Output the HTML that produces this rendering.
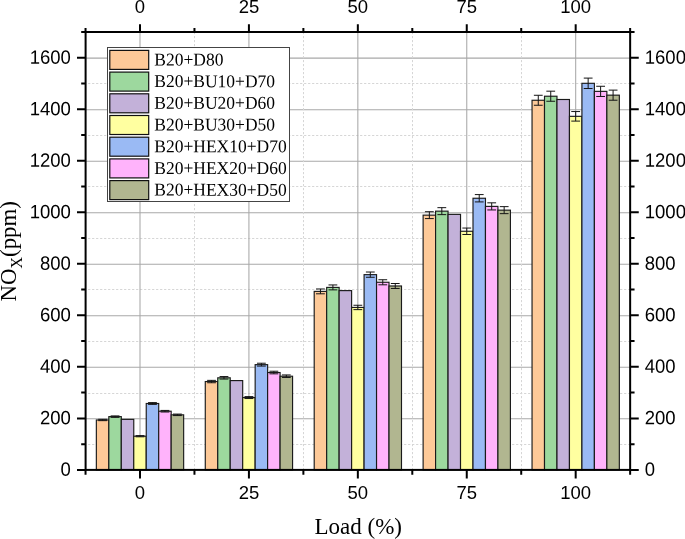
<!DOCTYPE html>
<html lang="en"><head><meta charset="utf-8"><title>NOx vs Load</title>
<style>html,body{margin:0;padding:0;background:#fff}svg{display:block}</style></head>
<body>
<svg width="685" height="539" viewBox="0 0 685 539">
<rect width="685" height="539" fill="#fff"/>
<g><line x1="88.1" x2="630.15" y1="444.50" y2="444.50" stroke="#d6d6d6" stroke-width="1" stroke-dasharray="2.2 1.8"/><line x1="85.6" x2="630.15" y1="418.76" y2="418.76" stroke="#a8a8a8" stroke-width="1.05"/><line x1="88.1" x2="630.15" y1="393.50" y2="393.50" stroke="#d6d6d6" stroke-width="1" stroke-dasharray="2.2 1.8"/><line x1="85.6" x2="630.15" y1="367.24" y2="367.24" stroke="#a8a8a8" stroke-width="1.05"/><line x1="88.1" x2="630.15" y1="341.50" y2="341.50" stroke="#d6d6d6" stroke-width="1" stroke-dasharray="2.2 1.8"/><line x1="85.6" x2="630.15" y1="315.73" y2="315.73" stroke="#a8a8a8" stroke-width="1.05"/><line x1="88.1" x2="630.15" y1="289.50" y2="289.50" stroke="#d6d6d6" stroke-width="1" stroke-dasharray="2.2 1.8"/><line x1="85.6" x2="630.15" y1="264.21" y2="264.21" stroke="#a8a8a8" stroke-width="1.05"/><line x1="88.1" x2="630.15" y1="238.50" y2="238.50" stroke="#d6d6d6" stroke-width="1" stroke-dasharray="2.2 1.8"/><line x1="85.6" x2="630.15" y1="212.69" y2="212.69" stroke="#a8a8a8" stroke-width="1.05"/><line x1="88.1" x2="630.15" y1="186.50" y2="186.50" stroke="#d6d6d6" stroke-width="1" stroke-dasharray="2.2 1.8"/><line x1="85.6" x2="630.15" y1="161.17" y2="161.17" stroke="#a8a8a8" stroke-width="1.05"/><line x1="88.1" x2="630.15" y1="135.50" y2="135.50" stroke="#d6d6d6" stroke-width="1" stroke-dasharray="2.2 1.8"/><line x1="85.6" x2="630.15" y1="109.66" y2="109.66" stroke="#a8a8a8" stroke-width="1.05"/><line x1="88.1" x2="630.15" y1="83.50" y2="83.50" stroke="#d6d6d6" stroke-width="1" stroke-dasharray="2.2 1.8"/><line x1="85.6" x2="630.15" y1="58.14" y2="58.14" stroke="#a8a8a8" stroke-width="1.05"/><line y1="32.0" y2="469.9" x1="140.00" x2="140.00" stroke="#a8a8a8" stroke-width="1.05"/><line y1="32.0" y2="469.9" x1="194.50" x2="194.50" stroke="#d6d6d6" stroke-width="1" stroke-dasharray="2.2 1.8"/><line y1="32.0" y2="469.9" x1="248.92" x2="248.92" stroke="#a8a8a8" stroke-width="1.05"/><line y1="32.0" y2="469.9" x1="303.50" x2="303.50" stroke="#d6d6d6" stroke-width="1" stroke-dasharray="2.2 1.8"/><line y1="32.0" y2="469.9" x1="357.84" x2="357.84" stroke="#a8a8a8" stroke-width="1.05"/><line y1="32.0" y2="469.9" x1="412.50" x2="412.50" stroke="#d6d6d6" stroke-width="1" stroke-dasharray="2.2 1.8"/><line y1="32.0" y2="469.9" x1="466.76" x2="466.76" stroke="#a8a8a8" stroke-width="1.05"/><line y1="32.0" y2="469.9" x1="521.50" x2="521.50" stroke="#d6d6d6" stroke-width="1" stroke-dasharray="2.2 1.8"/><line y1="32.0" y2="469.9" x1="575.68" x2="575.68" stroke="#a8a8a8" stroke-width="1.05"/></g>
<g><rect x="96.35" y="419.98" width="12.47" height="49.92" fill="#FDC998" stroke="#1a1a1a" stroke-width="1.15"/><path d="M102.59 419.31V420.65M98.19 419.31H106.99M98.19 420.65H106.99" stroke="#141414" stroke-width="1" fill="none"/><rect x="108.83" y="416.63" width="12.47" height="53.27" fill="#9DD89E" stroke="#1a1a1a" stroke-width="1.15"/><path d="M115.06 415.92V417.35M110.66 415.92H119.46M110.66 417.35H119.46" stroke="#141414" stroke-width="1" fill="none"/><rect x="121.30" y="419.36" width="12.47" height="50.54" fill="#C3B1D9" stroke="#1a1a1a" stroke-width="1.15"/><rect x="133.76" y="436.21" width="12.47" height="33.69" fill="#FFFFA0" stroke="#1a1a1a" stroke-width="1.15"/><path d="M140.00 435.61V436.81M135.60 435.61H144.40M135.60 436.81H144.40" stroke="#141414" stroke-width="1" fill="none"/><rect x="146.24" y="403.49" width="12.47" height="66.41" fill="#9ABAF4" stroke="#1a1a1a" stroke-width="1.15"/><path d="M152.47 402.60V404.39M148.07 402.60H156.87M148.07 404.39H156.87" stroke="#141414" stroke-width="1" fill="none"/><rect x="158.71" y="411.22" width="12.47" height="58.68" fill="#FFB3FB" stroke="#1a1a1a" stroke-width="1.15"/><path d="M164.94 410.43V412.01M160.54 410.43H169.34M160.54 412.01H169.34" stroke="#141414" stroke-width="1" fill="none"/><rect x="171.18" y="414.83" width="12.47" height="55.07" fill="#B1B690" stroke="#1a1a1a" stroke-width="1.15"/><path d="M177.41 414.09V415.57M173.01 414.09H181.81M173.01 415.57H181.81" stroke="#141414" stroke-width="1" fill="none"/><rect x="205.28" y="381.55" width="12.47" height="88.35" fill="#FDC998" stroke="#1a1a1a" stroke-width="1.15"/><path d="M211.51 380.36V382.74M207.11 380.36H215.91M207.11 382.74H215.91" stroke="#141414" stroke-width="1" fill="none"/><rect x="217.75" y="377.81" width="12.47" height="92.09" fill="#9DD89E" stroke="#1a1a1a" stroke-width="1.15"/><path d="M223.98 376.57V379.05M219.58 376.57H228.38M219.58 379.05H228.38" stroke="#141414" stroke-width="1" fill="none"/><rect x="230.22" y="380.59" width="12.47" height="89.31" fill="#C3B1D9" stroke="#1a1a1a" stroke-width="1.15"/><rect x="242.69" y="397.57" width="12.47" height="72.33" fill="#FFFFA0" stroke="#1a1a1a" stroke-width="1.15"/><path d="M248.92 396.60V398.54M244.52 396.60H253.32M244.52 398.54H253.32" stroke="#141414" stroke-width="1" fill="none"/><rect x="255.16" y="364.65" width="12.47" height="105.25" fill="#9ABAF4" stroke="#1a1a1a" stroke-width="1.15"/><path d="M261.39 363.23V366.07M256.99 363.23H265.79M256.99 366.07H265.79" stroke="#141414" stroke-width="1" fill="none"/><rect x="267.62" y="372.53" width="12.47" height="97.37" fill="#FFB3FB" stroke="#1a1a1a" stroke-width="1.15"/><path d="M273.86 371.22V373.84M269.46 371.22H278.26M269.46 373.84H278.26" stroke="#141414" stroke-width="1" fill="none"/><rect x="280.10" y="376.22" width="12.47" height="93.68" fill="#B1B690" stroke="#1a1a1a" stroke-width="1.15"/><path d="M286.33 374.95V377.48M281.93 374.95H290.73M281.93 377.48H290.73" stroke="#141414" stroke-width="1" fill="none"/><rect x="314.20" y="291.39" width="12.47" height="178.51" fill="#FDC998" stroke="#1a1a1a" stroke-width="1.15"/><path d="M320.43 288.98V293.80M316.03 288.98H324.83M316.03 293.80H324.83" stroke="#141414" stroke-width="1" fill="none"/><rect x="326.67" y="287.40" width="12.47" height="182.50" fill="#9DD89E" stroke="#1a1a1a" stroke-width="1.15"/><path d="M332.90 284.94V289.86M328.50 284.94H337.30M328.50 289.86H337.30" stroke="#141414" stroke-width="1" fill="none"/><rect x="339.14" y="290.62" width="12.47" height="179.28" fill="#C3B1D9" stroke="#1a1a1a" stroke-width="1.15"/><rect x="351.61" y="307.44" width="12.47" height="162.46" fill="#FFFFA0" stroke="#1a1a1a" stroke-width="1.15"/><path d="M357.84 305.25V309.63M353.44 305.25H362.24M353.44 309.63H362.24" stroke="#141414" stroke-width="1" fill="none"/><rect x="364.08" y="274.65" width="12.47" height="195.25" fill="#9ABAF4" stroke="#1a1a1a" stroke-width="1.15"/><path d="M370.31 272.02V277.28M365.91 272.02H374.71M365.91 277.28H374.71" stroke="#141414" stroke-width="1" fill="none"/><rect x="376.55" y="282.27" width="12.47" height="187.63" fill="#FFB3FB" stroke="#1a1a1a" stroke-width="1.15"/><path d="M382.78 279.74V284.80M378.38 279.74H387.18M378.38 284.80H387.18" stroke="#141414" stroke-width="1" fill="none"/><rect x="389.02" y="285.98" width="12.47" height="183.92" fill="#B1B690" stroke="#1a1a1a" stroke-width="1.15"/><path d="M395.25 283.50V288.46M390.85 283.50H399.65M390.85 288.46H399.65" stroke="#141414" stroke-width="1" fill="none"/><rect x="423.12" y="215.15" width="12.47" height="254.75" fill="#FDC998" stroke="#1a1a1a" stroke-width="1.15"/><path d="M429.35 211.71V218.58M424.95 211.71H433.75M424.95 218.58H433.75" stroke="#141414" stroke-width="1" fill="none"/><rect x="435.58" y="211.15" width="12.47" height="258.75" fill="#9DD89E" stroke="#1a1a1a" stroke-width="1.15"/><path d="M441.82 207.66V214.64M437.42 207.66H446.22M437.42 214.64H446.22" stroke="#141414" stroke-width="1" fill="none"/><rect x="448.06" y="214.37" width="12.47" height="255.53" fill="#C3B1D9" stroke="#1a1a1a" stroke-width="1.15"/><rect x="460.52" y="231.27" width="12.47" height="238.63" fill="#FFFFA0" stroke="#1a1a1a" stroke-width="1.15"/><path d="M466.76 228.05V234.49M462.36 228.05H471.16M462.36 234.49H471.16" stroke="#141414" stroke-width="1" fill="none"/><rect x="473.00" y="198.25" width="12.47" height="271.65" fill="#9ABAF4" stroke="#1a1a1a" stroke-width="1.15"/><path d="M479.23 194.58V201.91M474.83 194.58H483.63M474.83 201.91H483.63" stroke="#141414" stroke-width="1" fill="none"/><rect x="485.46" y="206.39" width="12.47" height="263.51" fill="#FFB3FB" stroke="#1a1a1a" stroke-width="1.15"/><path d="M491.70 202.83V209.94M487.30 202.83H496.10M487.30 209.94H496.10" stroke="#141414" stroke-width="1" fill="none"/><rect x="497.94" y="210.15" width="12.47" height="259.75" fill="#B1B690" stroke="#1a1a1a" stroke-width="1.15"/><path d="M504.17 206.64V213.65M499.77 206.64H508.57M499.77 213.65H508.57" stroke="#141414" stroke-width="1" fill="none"/><rect x="532.04" y="100.26" width="12.47" height="369.64" fill="#FDC998" stroke="#1a1a1a" stroke-width="1.15"/><path d="M538.27 95.27V105.25M533.87 95.27H542.67M533.87 105.25H542.67" stroke="#141414" stroke-width="1" fill="none"/><rect x="544.51" y="96.22" width="12.47" height="373.68" fill="#9DD89E" stroke="#1a1a1a" stroke-width="1.15"/><path d="M550.74 91.18V101.26M546.34 91.18H555.14M546.34 101.26H555.14" stroke="#141414" stroke-width="1" fill="none"/><rect x="556.98" y="99.49" width="12.47" height="370.41" fill="#C3B1D9" stroke="#1a1a1a" stroke-width="1.15"/><rect x="569.45" y="116.33" width="12.47" height="353.57" fill="#FFFFA0" stroke="#1a1a1a" stroke-width="1.15"/><path d="M575.68 111.56V121.10M571.28 111.56H580.08M571.28 121.10H580.08" stroke="#141414" stroke-width="1" fill="none"/><rect x="581.92" y="83.31" width="12.47" height="386.59" fill="#9ABAF4" stroke="#1a1a1a" stroke-width="1.15"/><path d="M588.15 78.10V88.53M583.75 78.10H592.55M583.75 88.53H592.55" stroke="#141414" stroke-width="1" fill="none"/><rect x="594.39" y="91.37" width="12.47" height="378.53" fill="#FFB3FB" stroke="#1a1a1a" stroke-width="1.15"/><path d="M600.62 86.27V96.48M596.22 86.27H605.02M596.22 96.48H605.02" stroke="#141414" stroke-width="1" fill="none"/><rect x="606.86" y="95.16" width="12.47" height="374.74" fill="#B1B690" stroke="#1a1a1a" stroke-width="1.15"/><path d="M613.09 90.11V100.22M608.69 90.11H617.49M608.69 100.22H617.49" stroke="#141414" stroke-width="1" fill="none"/></g>
<g><rect x="85.6" y="32.0" width="544.55" height="437.9" fill="none" stroke="#000" stroke-width="2"/><path d="M85.6 469.90h-8.6M630.15 469.90h8.6M85.6 444.14h-4.4M630.15 444.14h4.4M85.6 418.38h-8.6M630.15 418.38h8.6M85.6 392.62h-4.4M630.15 392.62h4.4M85.6 366.86h-8.6M630.15 366.86h8.6M85.6 341.11h-4.4M630.15 341.11h4.4M85.6 315.35h-8.6M630.15 315.35h8.6M85.6 289.59h-4.4M630.15 289.59h4.4M85.6 263.83h-8.6M630.15 263.83h8.6M85.6 238.07h-4.4M630.15 238.07h4.4M85.6 212.31h-8.6M630.15 212.31h8.6M85.6 186.55h-4.4M630.15 186.55h4.4M85.6 160.79h-8.6M630.15 160.79h8.6M85.6 135.04h-4.4M630.15 135.04h4.4M85.6 109.28h-8.6M630.15 109.28h8.6M85.6 83.52h-4.4M630.15 83.52h4.4M85.6 57.76h-8.6M630.15 57.76h8.6M85.6 32.00h-4.4M630.15 32.00h4.4M85.54 32.0v-4.1M85.54 469.9v4.9M140.00 32.0v-7.7M140.00 469.9v8.5M194.46 32.0v-4.1M194.46 469.9v4.9M248.92 32.0v-7.7M248.92 469.9v8.5M303.38 32.0v-4.1M303.38 469.9v4.9M357.84 32.0v-7.7M357.84 469.9v8.5M412.30 32.0v-4.1M412.30 469.9v4.9M466.76 32.0v-7.7M466.76 469.9v8.5M521.22 32.0v-4.1M521.22 469.9v4.9M575.68 32.0v-7.7M575.68 469.9v8.5M630.14 32.0v-4.1M630.14 469.9v4.9" stroke="#000" stroke-width="2" fill="none"/></g>
<g font-family="'Liberation Sans', Arial, sans-serif" font-size="18.5" fill="#000"><text transform="translate(70.9 475.85) rotate(0.03) scale(1 1.04)" text-anchor="end">0</text><text transform="translate(644.8 475.85) rotate(0.03) scale(1 1.04)" text-anchor="start">0</text><text transform="translate(70.9 424.33) rotate(0.03) scale(1 1.04)" text-anchor="end">200</text><text transform="translate(644.8 424.33) rotate(0.03) scale(1 1.04)" text-anchor="start">200</text><text transform="translate(70.9 372.81) rotate(0.03) scale(1 1.04)" text-anchor="end">400</text><text transform="translate(644.8 372.81) rotate(0.03) scale(1 1.04)" text-anchor="start">400</text><text transform="translate(70.9 321.30) rotate(0.03) scale(1 1.04)" text-anchor="end">600</text><text transform="translate(644.8 321.30) rotate(0.03) scale(1 1.04)" text-anchor="start">600</text><text transform="translate(70.9 269.78) rotate(0.03) scale(1 1.04)" text-anchor="end">800</text><text transform="translate(644.8 269.78) rotate(0.03) scale(1 1.04)" text-anchor="start">800</text><text transform="translate(70.9 218.26) rotate(0.03) scale(1 1.04)" text-anchor="end">1000</text><text transform="translate(644.8 218.26) rotate(0.03) scale(1 1.04)" text-anchor="start">1000</text><text transform="translate(70.9 166.74) rotate(0.03) scale(1 1.04)" text-anchor="end">1200</text><text transform="translate(644.8 166.74) rotate(0.03) scale(1 1.04)" text-anchor="start">1200</text><text transform="translate(70.9 115.23) rotate(0.03) scale(1 1.04)" text-anchor="end">1400</text><text transform="translate(644.8 115.23) rotate(0.03) scale(1 1.04)" text-anchor="start">1400</text><text transform="translate(70.9 63.71) rotate(0.03) scale(1 1.04)" text-anchor="end">1600</text><text transform="translate(644.8 63.71) rotate(0.03) scale(1 1.04)" text-anchor="start">1600</text><text x="140.00" y="13.4" text-anchor="middle">0</text><text x="140.00" y="499.2" text-anchor="middle">0</text><text x="248.92" y="13.4" text-anchor="middle">25</text><text x="248.92" y="499.2" text-anchor="middle">25</text><text x="357.84" y="13.4" text-anchor="middle">50</text><text x="357.84" y="499.2" text-anchor="middle">50</text><text x="466.76" y="13.4" text-anchor="middle">75</text><text x="466.76" y="499.2" text-anchor="middle">75</text><text x="575.68" y="13.4" text-anchor="middle">100</text><text x="575.68" y="499.2" text-anchor="middle">100</text></g>
<g font-family="'Liberation Serif', 'Times New Roman', serif" fill="#000">
<text x="358.3" y="533.8" font-size="23" text-anchor="middle">Load (%)</text>
<text transform="translate(16.1 301.6) rotate(-90)" font-size="23" textLength="100.6" lengthAdjust="spacingAndGlyphs">NO<tspan font-size="16" dy="5.6">X</tspan><tspan dy="-5.6">(ppm)</tspan></text>
</g>
<g font-family="'Liberation Serif', 'Times New Roman', serif" font-size="17.5" fill="#000"><rect x="107.5" y="47.5" width="182" height="154" fill="#fff" stroke="#444" stroke-width="1"/><rect x="109.8" y="50.40" width="38.9" height="19" fill="#FDC998" stroke="#111" stroke-width="1.2"/><text transform="translate(154.3 65.40) rotate(0.03) scale(1 1.03)">B20+D80</text><rect x="109.8" y="72.10" width="38.9" height="19" fill="#9DD89E" stroke="#111" stroke-width="1.2"/><text transform="translate(154.3 87.10) rotate(0.03) scale(1 1.03)">B20+BU10+D70</text><rect x="109.8" y="93.80" width="38.9" height="19" fill="#C3B1D9" stroke="#111" stroke-width="1.2"/><text transform="translate(154.3 108.80) rotate(0.03) scale(1 1.03)">B20+BU20+D60</text><rect x="109.8" y="115.50" width="38.9" height="19" fill="#FFFFA0" stroke="#111" stroke-width="1.2"/><text transform="translate(154.3 130.50) rotate(0.03) scale(1 1.03)">B20+BU30+D50</text><rect x="109.8" y="137.20" width="38.9" height="19" fill="#9ABAF4" stroke="#111" stroke-width="1.2"/><text transform="translate(154.3 152.20) rotate(0.03) scale(1 1.03)">B20+HEX10+D70</text><rect x="109.8" y="158.90" width="38.9" height="19" fill="#FFB3FB" stroke="#111" stroke-width="1.2"/><text transform="translate(154.3 173.90) rotate(0.03) scale(1 1.03)">B20+HEX20+D60</text><rect x="109.8" y="180.60" width="38.9" height="19" fill="#B1B690" stroke="#111" stroke-width="1.2"/><text transform="translate(154.3 195.60) rotate(0.03) scale(1 1.03)">B20+HEX30+D50</text></g>
</svg>
</body></html>
